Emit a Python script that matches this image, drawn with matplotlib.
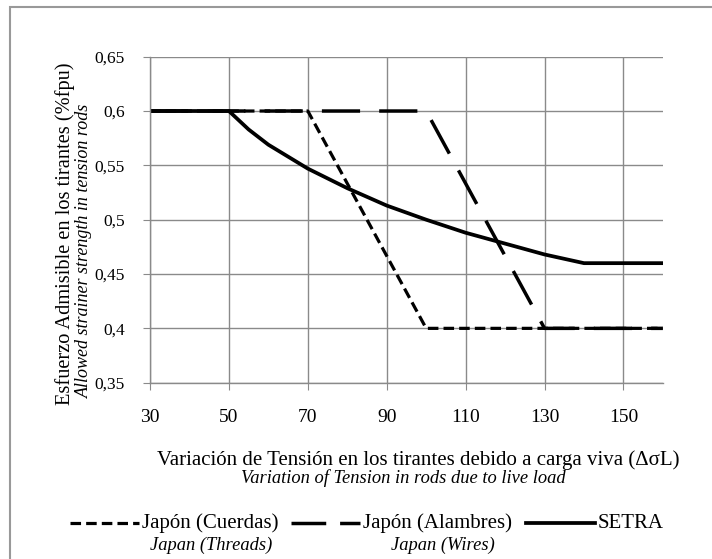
import matplotlib
matplotlib.use("Agg")
import matplotlib.pyplot as plt
from matplotlib.lines import Line2D
from matplotlib.patches import Rectangle

plt.rcParams['font.family'] = ['Liberation Serif', 'DejaVu Serif']

# Datos
x_cuerdas = [30, 70, 100, 160]
y_cuerdas = [0.6, 0.6, 0.4, 0.4]

x_alambres = [30, 100, 130, 160]
y_alambres = [0.6, 0.6, 0.4, 0.4]

x_setra = [30, 50, 55, 60, 70, 80, 90, 100, 110, 120, 130, 140, 160]
y_setra = [0.6, 0.6, 0.583, 0.569, 0.547, 0.529, 0.513, 0.5, 0.488, 0.478, 0.468, 0.46, 0.46]

x_ticks = [30, 50, 70, 90, 110, 130, 150]
y_ticks = [0.35, 0.4, 0.45, 0.5, 0.55, 0.6, 0.65]
y_ticklabels = ["0,35", "0,4", "0,45", "0,5", "0,55", "0,6", "0,65"]

fig = plt.figure(figsize=(7.12, 5.59), dpi=100)
ax = fig.add_axes([0.2107, 0.3154, 0.7203, 0.5832])

short_dash = (0, (3.3, 1.6))
long_dash = (0, (11, 5.5))

ax.plot(x_cuerdas, y_cuerdas, color='black', lw=2.3, linestyle=short_dash)
ax.plot(x_alambres, y_alambres, color='black', lw=2.5, linestyle=long_dash)
ax.plot(x_setra, y_setra, color='black', lw=2.7)

ax.set_xlim(30, 160)
ax.set_ylim(0.35, 0.65)
ax.set_xticks(x_ticks)
ax.set_yticks(y_ticks)
ax.set_yticklabels(y_ticklabels)
ax.grid(True, color='#8a8a8a', lw=1.0)
ax.set_axisbelow(True)
for s in ['top', 'right']:
    ax.spines[s].set_visible(False)
for s in ['left', 'bottom']:
    ax.spines[s].set_color('#8a8a8a')
    ax.spines[s].set_linewidth(1.0)
ax.tick_params(axis='both', colors='#8a8a8a', labelcolor='black', length=5)
ax.tick_params(axis='x', labelsize=14, pad=14)
ax.tick_params(axis='y', labelsize=12.5, pad=13)

# Etiquetas de los ejes
fig.text(0.092, 0.582, "Esfuerzo Admisible en los tirantes (%fpu)", rotation=90,
         ha='center', va='center', fontsize=14.7)
fig.text(0.119, 0.551, "Allowed strainer strength in tension rods", rotation=90,
         ha='center', va='center', fontsize=13, style='italic')
fig.text(0.587, 0.177, "Variación de Tensión en los tirantes debido a carga viva (ΔσL)",
         ha='center', va='center', fontsize=15)
fig.text(0.566, 0.145, "Variation of Tension in rods due to live load",
         ha='center', va='center', fontsize=13.3, style='italic')

# Leyenda
def leg_item(x0, x1, ls, lw, label, sub, sub_x):
    y = 1 - 523 / 559
    fig.add_artist(Line2D([x0 / 712, x1 / 712], [y, y], color='black', lw=lw,
                          linestyle=ls, transform=fig.transFigure))
    fig.text((x1 + 3) / 712, y, label, ha='left', va='center', fontsize=15)
    if sub:
        fig.text(sub_x / 712, 1 - 545 / 559, sub, ha='center', va='center',
                 fontsize=13.3, style='italic')

leg_item(70, 139, short_dash, 2.3, "Japón (Cuerdas)", "Japan (Threads)", 211)
leg_item(291, 360, (0, (10, 4)), 2.5, "Japón (Alambres)", "Japan (Wires)", 443)
leg_item(526, 595, '-', 2.7, "SETRA", None, 0)

# Marco
fig.add_artist(Rectangle((10 / 712, -0.05), 1.0, 1 - 7 / 559 + 0.05, fill=False,
                         edgecolor='#999999', lw=1.5, transform=fig.transFigure))

fig.savefig("out.png", dpi=100)
